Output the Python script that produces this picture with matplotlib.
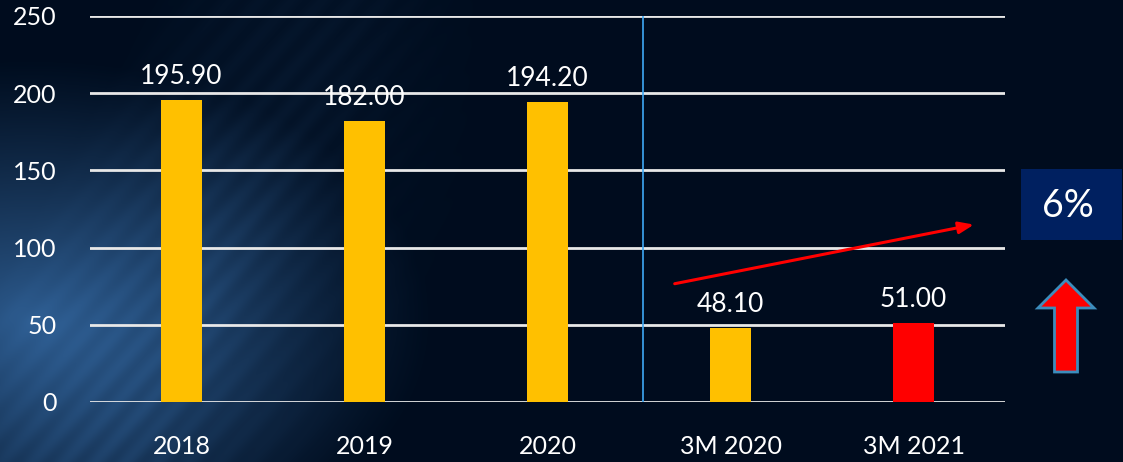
import matplotlib.pyplot as plt
from matplotlib.patches import FancyArrow, Rectangle
import numpy as np

# data
categories = ["2018", "2019", "2020", "3M 2020", "3M 2021"]
values = [195.90, 182.00, 194.20, 48.10, 51.00]
bar_colors = ["#FFC000", "#FFC000", "#FFC000", "#FFC000", "#FF0000"]
y_ticks = [0, 50, 100, 150, 200, 250]
growth_label = "6%"

plt.rcParams['font.family'] = ['Lato', 'DejaVu Sans']

fig = plt.figure(figsize=(11.23, 4.62), dpi=100)

# background gradient: dark navy with lighter blue glow on the lower left
bg = fig.add_axes([0, 0, 1, 1])
h, w = 462, 1123
yy, xx = np.mgrid[0:h, 0:w]
d = np.clip(1 - np.hypot((xx - 30) / 400.0, (yy - 320) / 260.0), 0, 1)
streak = 0.5 + 0.5 * np.sin((xx + yy * 0.9) / 5.0)
diag = np.clip(1 - np.abs((xx - 0.55 * (h - yy)) - 120) / 220.0, 0, 1)
fade = np.clip(1 - xx / 480.0, 0, 1)
glow = np.clip(0.85 * d ** 1.1 + 0.35 * diag * fade * (0.6 + 0.4 * streak), 0, 1)
base = np.array([0.0, 0.05, 0.12])
light = np.array([0.2, 0.4, 0.62])
img = base + glow[..., None] * (light - base)
bg.imshow(img, aspect='auto', extent=[0, 1, 0, 1])
bg.axis('off')

ax = fig.add_axes([0.0801, 0.1299, 0.8149, 0.8355])
ax.patch.set_alpha(0)
x = np.arange(len(categories))
ax.bar(x, values, width=0.22, color=bar_colors, zorder=3)
for xi, v in zip(x, values):
    ax.text(xi, v + 7, f"{v:.2f}", ha='center', va='bottom', color='white', fontsize=19, zorder=4)

ax.set_xlim(-0.5, len(categories) - 0.5)
ax.set_ylim(0, 250)
ax.set_yticks(y_ticks)
ax.set_xticks(x)
ax.set_xticklabels(categories)
ax.yaxis.grid(True, color='#e8e8e8', linewidth=2)
ax.set_axisbelow(True)
for s in ax.spines.values():
    s.set_visible(False)
ax.tick_params(axis='both', length=0, colors='white', labelsize=18)
ax.tick_params(axis='y', pad=24)
ax.tick_params(axis='x', pad=24)

# separator between annual and quarterly values
ax.axvline(2.52, color='#3fa9f5', linewidth=1.2, zorder=2)

# trend arrow
ax.annotate("", xy=(0.969, 0.461), xytext=(0.636, 0.305), xycoords='axes fraction',
            arrowprops=dict(arrowstyle='-|>,head_length=0.9,head_width=0.35', color='#FF0000', lw=2.2))

# growth box
fig.patches.append(Rectangle((1021 / 1123, 1 - 240 / 462), 101 / 1123, 71 / 462,
                             transform=fig.transFigure, facecolor='#002060', edgecolor='none'))
fig.text(1068 / 1123, 1 - 206 / 462, growth_label, color='white', fontsize=27, ha='center', va='center')

# up arrow
fig.patches.append(FancyArrow(1066 / 1123, 1 - 372 / 462, 0, 92 / 462, width=23 / 1123,
                              head_width=56 / 1123, head_length=28 / 462, length_includes_head=True,
                              transform=fig.transFigure, facecolor='#FF0000', edgecolor='#3c8dbd', linewidth=2))

fig.savefig("out.png", dpi=100)
